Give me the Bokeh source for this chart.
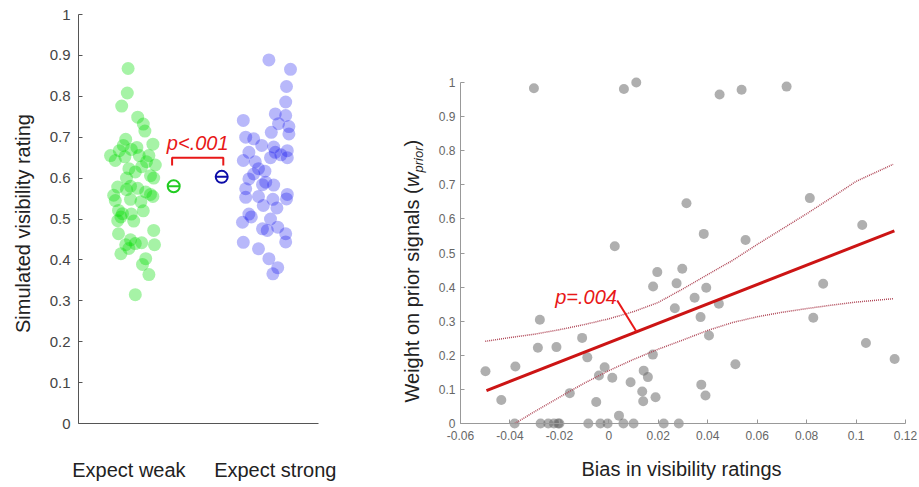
from math import pi
from bokeh.plotting import figure
from bokeh.models import Range1d, FixedTicker, CustomJSTickFormatter
from bokeh.layouts import row
from bokeh.core.properties import value
from bokeh.embed import file_html
from bokeh.resources import INLINE

FONT = "Liberation Sans"

# ---------------- left panel data ----------------
categories = ["Expect weak", "Expect strong"]
category_label_x = [0.63, 2.46]

weak_x = [0.62, 0.61, 0.54, 0.74, 0.81, 0.83, 0.59, 0.56, 0.93, 0.51, 0.66, 0.73, 0.58, 0.76,
          0.88, 0.46, 0.96, 0.63, 0.79, 0.90, 0.94, 0.49, 0.60, 0.65, 0.74, 0.84, 0.90, 0.46,
          0.65, 0.78, 0.93, 0.50, 0.55, 0.66, 0.81, 0.53, 0.49, 0.69, 0.94, 0.50, 0.65, 0.59,
          0.79, 0.95, 0.53, 0.63, 0.71, 0.84, 0.80, 0.88, 0.71, 0.60, 0.71, 0.44, 0.85, 0.40]
weak_y = [0.868, 0.808, 0.776, 0.749, 0.732, 0.715, 0.695, 0.680, 0.683, 0.667, 0.670, 0.675,
          0.652, 0.655, 0.655, 0.643, 0.632, 0.623, 0.628, 0.606, 0.600, 0.578, 0.572, 0.580,
          0.575, 0.566, 0.560, 0.545, 0.548, 0.542, 0.555, 0.521, 0.513, 0.512, 0.520, 0.505,
          0.496, 0.495, 0.472, 0.464, 0.449, 0.437, 0.442, 0.437, 0.415, 0.428, 0.440, 0.403,
          0.389, 0.364, 0.315, 0.600, 0.615, 0.558, 0.640, 0.655]

strong_x = [2.38, 2.65, 2.60, 2.59, 2.06, 2.46, 2.59, 2.50, 2.63, 2.41, 2.63, 2.09, 2.19,
            2.29, 2.44, 2.46, 2.53, 2.61, 2.61, 2.13, 2.06, 2.25, 2.19, 2.33, 2.13, 2.09,
            2.30, 2.44, 2.25, 2.09, 2.43, 2.61, 2.60, 2.31, 2.48, 2.13, 2.16, 2.05, 2.40,
            2.30, 2.36, 2.49, 2.59, 2.59, 2.06, 2.25, 2.38, 2.49, 2.43, 2.34, 2.21, 2.40]
strong_y = [0.889, 0.866, 0.824, 0.786, 0.741, 0.757, 0.753, 0.733, 0.726, 0.712, 0.708,
            0.700, 0.696, 0.680, 0.676, 0.663, 0.657, 0.667, 0.650, 0.663, 0.643, 0.623,
            0.610, 0.617, 0.598, 0.574, 0.584, 0.583, 0.555, 0.553, 0.548, 0.560, 0.549,
            0.533, 0.527, 0.512, 0.505, 0.492, 0.500, 0.476, 0.472, 0.480, 0.464, 0.444,
            0.443, 0.427, 0.403, 0.381, 0.366, 0.590, 0.640, 0.650]

mean_x = [1.19, 1.79]
mean_y = [0.580, 0.603]
mean_colors = ["#22cc22", "#0c0ca8"]
left_sig_text = "p<.001"
left_y_title = "Simulated visibility rating"
left_y_ticks = [0, 0.1, 0.2, 0.3, 0.4, 0.5, 0.6, 0.7, 0.8, 0.9, 1.0]

# ---------------- right panel data ----------------
bias_x = [-0.0303, 0.0061, 0.0111, 0.0448, 0.0537, 0.0719, 0.0024, 0.0314, 0.0813, 0.0384,
          0.0553, 0.1025, 0.0196, 0.0297, 0.0179, 0.0274, 0.0394, 0.0347, 0.0445, 0.0867,
          0.0267, 0.0371, 0.0827, 0.0405, 0.1040, 0.0178, 0.1156, 0.0512, 0.0141, 0.0158,
          0.0374, 0.0391, 0.0135, 0.0139, 0.0189, -0.0279, -0.0287, -0.0212, -0.0108, -0.0087,
          -0.0499, -0.0378, -0.0435, -0.0158, -0.0017, -0.0040, 0.0014, 0.0088, -0.0051, 0.0041,
          -0.0381, -0.0276, -0.0245, -0.0222, -0.0205, -0.0200, -0.0083, -0.0034, -0.0005,
          0.0059, 0.0100, 0.0222, 0.0283]
wprior_y = [0.983, 0.981, 1.000, 0.965, 0.979, 0.988, 0.520, 0.646, 0.661, 0.556,
            0.538, 0.582, 0.444, 0.454, 0.402, 0.411, 0.398, 0.369, 0.351, 0.410,
            0.338, 0.312, 0.310, 0.258, 0.236, 0.202, 0.189, 0.174, 0.155, 0.136,
            0.114, 0.082, 0.094, 0.065, 0.077, 0.304, 0.222, 0.224, 0.251, 0.194,
            0.153, 0.167, 0.069, 0.089, 0.165, 0.141, 0.134, 0.121, 0.063, 0.023,
            0.0, 0.0, 0.0, 0.0, 0.0, 0.0, 0.0, 0.0, 0.0,
            0.0, 0.0, 0.0, 0.0]

fit_slope = 2.84
fit_intercept = 0.237
fit_x = [-0.0495, 0.1155]
fit_y = [fit_intercept + fit_slope * v for v in fit_x]

ci_upper_x = [-0.05, -0.04, -0.03, -0.02, -0.01, 0.0, 0.01, 0.02, 0.03, 0.04, 0.05,
              0.06, 0.07, 0.08, 0.09, 0.10, 0.115]
ci_upper_y = [0.241, 0.252, 0.262, 0.275, 0.290, 0.307, 0.328, 0.355, 0.395, 0.437, 0.478,
              0.525, 0.570, 0.615, 0.662, 0.710, 0.760]
ci_lower_x = [-0.038, -0.03, -0.02, -0.01, 0.0, 0.01, 0.02, 0.03, 0.04, 0.05, 0.06, 0.07,
              0.08, 0.09, 0.10, 0.115]
ci_lower_y = [0.0, 0.035, 0.077, 0.118, 0.155, 0.188, 0.218, 0.245, 0.273, 0.296, 0.313,
              0.326, 0.337, 0.347, 0.356, 0.366]
right_sig_text = "p=.004"
right_x_title = "Bias in visibility ratings"
right_x_ticks = [-0.06, -0.04, -0.02, 0.0, 0.02, 0.04, 0.06, 0.08, 0.1, 0.12]
right_y_ticks = [0, 0.1, 0.2, 0.3, 0.4, 0.5, 0.6, 0.7, 0.8, 0.9, 1.0]

num_fmt = "return String(Number(tick.toFixed(2)));"
RED = "#e81818"

# ---- page geometry (pixels) ----
# Both figures use the whole canvas as their frame; axes are pinned with fixed_location.
PAGE_H = 487
SPLIT = 430                     # page x where the right figure starts
L_X0, L_PPX = 78.0, 80.0        # left: x=0 at page 78, 80 px per unit
L_Y0, L_PPY = 423.0, 409.0      # left: y=0 at page 423, 409 px per unit
R_X0, R_PPX = 460.0, 445.0 / 0.18   # right: x=-0.06 at page 460
R_Y0, R_PPY = 423.0, 341.0      # right: y=0 at page 423, 341 px per unit


def style_axis(ax, font_size, label_color, line_color):
    ax.minor_tick_line_color = None
    ax.axis_line_color = line_color
    ax.major_tick_line_color = line_color
    ax.major_label_text_font = FONT
    ax.major_label_text_font_size = font_size
    ax.major_label_text_color = label_color


# ================= LEFT FIGURE =================
p1 = figure(width=SPLIT, height=PAGE_H,
            x_range=Range1d(-L_X0 / L_PPX, (SPLIT - L_X0) / L_PPX),
            y_range=Range1d((L_Y0 - PAGE_H) / L_PPY, L_Y0 / L_PPY),
            output_backend="svg", toolbar_location=None,
            min_border_left=0, min_border_right=0, min_border_top=0, min_border_bottom=0)
p1.outline_line_color = None
p1.grid.visible = False

p1.scatter(weak_x, weak_y, size=13, fill_color="#00dd00", fill_alpha=0.35, line_color=None)
p1.scatter(strong_x, strong_y, size=13, fill_color="#0000ee", fill_alpha=0.28, line_color=None)
p1.scatter(mean_x, mean_y, marker="circle", size=12, fill_color=None,
           line_color=mean_colors, line_width=2)
p1.scatter(mean_x, mean_y, marker="dash", size=12, line_color=mean_colors, line_width=2)

bx0, bx1 = mean_x[0] - 0.02, mean_x[1] + 0.02
btop = max(mean_y) + 0.047
bleg = btop - 0.019
p1.line([bx0, bx0, bx1, bx1], [bleg, btop, btop, bleg], line_color=RED, line_width=2)
p1.text(x=[(bx0 + bx1) / 2], y=[btop + 0.036], text=[left_sig_text],
        text_font=value(FONT), text_font_style="italic", text_font_size="20px",
        text_color=RED, text_align="center", text_baseline="alphabetic")

ya = p1.yaxis[0]
ya.fixed_location = 0
ya.bounds = (0, 1)
ya.ticker = FixedTicker(ticks=left_y_ticks)
ya.formatter = CustomJSTickFormatter(code=num_fmt)
ya.major_tick_in = 4
ya.major_tick_out = 0
style_axis(ya, "15px", "#444444", "#555555")
ya.major_label_standoff = 8

xa = p1.xaxis[0]
xa.fixed_location = 0
xa.bounds = (0, 3)
xa.ticker = FixedTicker(ticks=category_label_x)
xa.formatter = CustomJSTickFormatter(args=dict(labels=categories),
                                     code="return tick < 1.5 ? labels[0] : labels[1];")
style_axis(xa, "20px", "#222222", "#555555")
xa.major_tick_line_color = None
xa.major_label_standoff = 29


def lx(page_x):
    return (page_x - L_X0) / L_PPX


def ly(page_y):
    return (L_Y0 - page_y) / L_PPY


# left y-axis title
p1.text(x=[lx(22.0)], y=[ly(223.0)], text=[left_y_title], angle=pi / 2,
        text_font=value(FONT), text_font_size="20px", text_color="#222222",
        text_align="center", text_baseline="middle")

# right panel's y-axis title (with italic subscript); it lies inside this canvas
title_pieces = [
    ("Weight on prior signals (", 411.0, 402.0, "20px", "normal"),
    ("w", 411.0, 186.4, "20px", "italic"),
    ("prior", 417.5, 172.0, "13px", "italic"),
    (")", 411.0, 146.0, "20px", "normal"),
]
for txt, px_, py_, fs, st in title_pieces:
    p1.text(x=[lx(px_)], y=[ly(py_)], text=[txt], angle=pi / 2,
            text_font=value(FONT), text_font_size=fs, text_font_style=st,
            text_color="#222222", text_align="left", text_baseline="middle")

# ================= RIGHT FIGURE =================
p2 = figure(width=919 - SPLIT, height=PAGE_H,
            x_range=Range1d(-0.06 - (R_X0 - SPLIT) / R_PPX, -0.06 + (919 - R_X0) / R_PPX),
            y_range=Range1d((R_Y0 - PAGE_H) / R_PPY, R_Y0 / R_PPY),
            output_backend="svg", toolbar_location=None,
            min_border_left=0, min_border_right=0, min_border_top=0, min_border_bottom=0)
p2.outline_line_color = None
p2.grid.visible = False

p2.scatter(bias_x, wprior_y, size=10, fill_color="#666666", fill_alpha=0.52, line_color=None)
p2.line(ci_upper_x, ci_upper_y, line_color="#b04858", line_width=1.5, line_dash="1 1")
p2.line(ci_lower_x, ci_lower_y, line_color="#b04858", line_width=1.5, line_dash="1 1")
p2.line(fit_x, fit_y, line_color="#cc1414", line_width=3)

ptr_x1 = 0.0112
p2.line([0.0034, ptr_x1], [0.361, fit_intercept + fit_slope * ptr_x1], line_color=RED, line_width=2)
p2.text(x=[-0.0092], y=[0.37], text=[right_sig_text],
        text_font=value(FONT), text_font_style="italic", text_font_size="20px",
        text_color=RED, text_align="center", text_baseline="alphabetic")

p2.text(x=[0.0294], y=[(R_Y0 - 468) / R_PPY], text=[right_x_title],
        text_font=value(FONT), text_font_size="20px", text_color="#222222",
        text_align="center", text_baseline="middle")

xb = p2.xaxis[0]
xb.fixed_location = 0
xb.bounds = (-0.06, 0.12)
xb.ticker = FixedTicker(ticks=right_x_ticks)
xb.formatter = CustomJSTickFormatter(code=num_fmt)
xb.major_tick_in = 4
xb.major_tick_out = 0
style_axis(xb, "12px", "#666666", "#999999")
xb.major_label_standoff = 7

yb = p2.yaxis[0]
yb.fixed_location = -0.06
yb.bounds = (0, 1)
yb.ticker = FixedTicker(ticks=right_y_ticks)
yb.formatter = CustomJSTickFormatter(code=num_fmt)
yb.major_tick_in = 4
yb.major_tick_out = 0
style_axis(yb, "12px", "#666666", "#999999")
yb.major_label_standoff = 5

layout = row(p1, p2)
open("out.html", "w").write(file_html(layout, INLINE))
